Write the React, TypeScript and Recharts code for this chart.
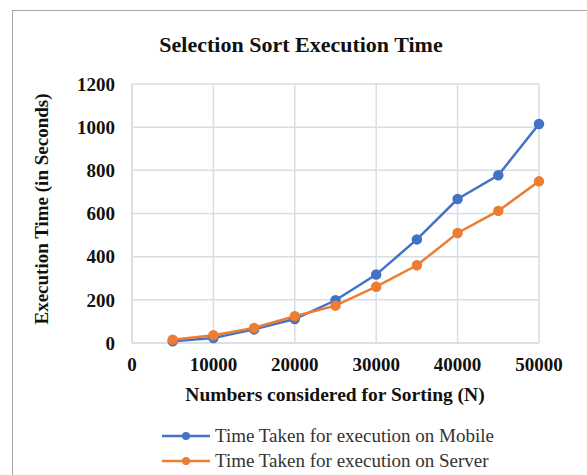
import { CartesianGrid, Line, LineChart, XAxis, YAxis } from "recharts";

const sizes = [5000, 10000, 15000, 20000, 25000, 30000, 35000, 40000, 45000, 50000];
const mobileTimes = [8, 23, 63, 111, 198, 317, 480, 667, 777, 1015];
const serverTimes = [15, 36, 70, 124, 173, 261, 360, 510, 612, 749];
const xTicks = [0, 10000, 20000, 30000, 40000, 50000];
const yTicks = [0, 200, 400, 600, 800, 1000, 1200];

const MOBILE = "#4472C4";
const SERVER = "#ED7D31";
const GRID = "#D9DEE5";
const FONT = "'Liberation Serif', 'Times New Roman', serif";

const data = sizes.map((n, i) => ({
  n,
  mobile: mobileTimes[i],
  server: serverTimes[i],
}));

export default function App() {
  return (
    <div
      style={{
        position: "absolute",
        left: 0,
        top: 0,
        width: 587,
        height: 475,
        overflow: "hidden",
        background: "#fff",
        fontFamily: FONT,
      }}
    >
      {/* outer frame */}
      <div
        style={{
          position: "absolute",
          left: 12,
          top: 10,
          width: 640,
          height: 520,
          border: "1.5px solid #A6A6A6",
        }}
      />

      <div
        style={{
          position: "absolute",
          left: 301,
          top: 45,
          transform: "translate(-50%, -50%)",
          whiteSpace: "nowrap",
          fontWeight: "bold",
          fontSize: 22,
          color: "#111",
        }}
      >
        Selection Sort Execution Time
      </div>

      <div style={{ position: "absolute", left: 0, top: 0 }}>
        <LineChart
          width={587}
          height={475}
          data={data}
          margin={{ top: 84, right: 48, bottom: 102, left: 0 }}
        >
          <CartesianGrid stroke={GRID} strokeWidth={1.5} />
          <XAxis
            dataKey="n"
            type="number"
            domain={[0, 50000]}
            ticks={xTicks}
            height={30}
            tickSize={0}
            tickMargin={15}
            axisLine={{ stroke: GRID, strokeWidth: 1.5 }}
            tick={{ fill: "#111", fontSize: 19, fontWeight: "bold", fontFamily: FONT }}
          />
          <YAxis
            type="number"
            domain={[0, 1200]}
            ticks={yTicks}
            width={132}
            tickSize={0}
            tickMargin={17}
            axisLine={{ stroke: GRID, strokeWidth: 1.5 }}
            tick={{ fill: "#111", fontSize: 19, fontWeight: "bold", fontFamily: FONT }}
          />
          <Line
            dataKey="mobile"
            stroke={MOBILE}
            strokeWidth={2.5}
            dot={{ r: 4, fill: MOBILE, stroke: MOBILE }}
            isAnimationActive={false}
          />
          <Line
            dataKey="server"
            stroke={SERVER}
            strokeWidth={2.5}
            dot={{ r: 4, fill: SERVER, stroke: SERVER }}
            isAnimationActive={false}
          />
        </LineChart>
      </div>

      {/* Y axis title */}
      <div
        style={{
          position: "absolute",
          left: 42,
          top: 209,
          transform: "translate(-50%, -50%) rotate(-90deg)",
          whiteSpace: "nowrap",
          fontWeight: "bold",
          fontSize: 19,
          color: "#111",
        }}
      >
        Execution Time (in Seconds)
      </div>

      {/* X axis title */}
      <div
        style={{
          position: "absolute",
          left: 335,
          top: 395,
          transform: "translate(-50%, -50%)",
          whiteSpace: "nowrap",
          fontWeight: "bold",
          fontSize: 19.5,
          color: "#111",
        }}
      >
        Numbers considered for Sorting (N)
      </div>

      {/* Legend */}
      <LegendRow top={436} color={MOBILE} label="Time Taken for execution on Mobile" />
      <LegendRow top={461} color={SERVER} label="Time Taken for execution on Server" />
    </div>
  );
}

interface LegendRowProps {
  top: number;
  color: string;
  label: string;
}

function LegendRow({ top, color, label }: LegendRowProps) {
  return (
    <div
      style={{
        position: "absolute",
        left: 161,
        top: top - 12,
        height: 24,
        display: "flex",
        alignItems: "center",
        whiteSpace: "nowrap",
      }}
    >
      <svg width={50} height={20}>
        <line x1={1} y1={10} x2={49} y2={10} stroke={color} strokeWidth={2.5} />
        <circle cx={25} cy={10} r={4} fill={color} />
      </svg>
      <span style={{ marginLeft: 4, fontSize: 19, color: "#333" }}>{label}</span>
    </div>
  );
}
